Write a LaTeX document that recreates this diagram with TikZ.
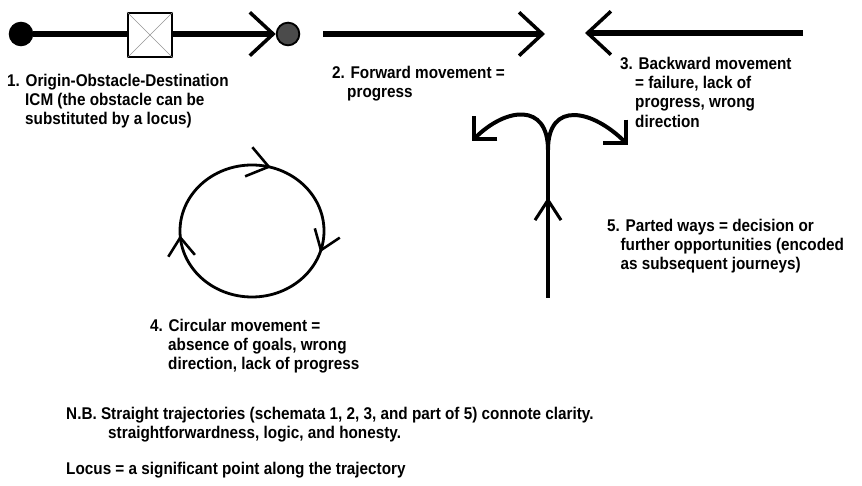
\documentclass[tikz,border=0pt]{standalone}
\usepackage{fontspec}
\setmainfont[FakeStretch=0.9]{Liberation Sans}
\usepackage{tikz}
\usetikzlibrary{arrows.meta,positioning,calc,decorations.markings}
\definecolor{DotGray}{RGB}{75,75,75}
\definecolor{CrossGray}{RGB}{150,150,150}

\begin{document}
\begin{tikzpicture}[x=0.03cm, y=0.03cm,
  traj/.style={line width=4.3pt, -{Straight Barb[length=0.7cm, width=1.3cm, line width=3pt]}},
  branch/.style={line width=3.4pt, -{Straight Barb[length=0.5cm, width=1.0cm, line width=3pt]}},
  ring/.style={line width=2.4pt, postaction={decorate}, decoration={markings,
    mark=at position 0.044 with {\arrow{Straight Barb[length=0.62cm, width=0.9cm, line width=2.2pt]}},
    mark=at position 0.30 with {\arrow{Straight Barb[length=0.55cm, width=0.8cm, line width=2.2pt]}},
    mark=at position 0.74 with {\arrow{Straight Barb[length=0.55cm, width=0.8cm, line width=2.2pt]}}}},
  stem/.style={line width=3.6pt, postaction={decorate}, decoration={markings,
    mark=at position 0.68 with {\arrow{Straight Barb[length=0.6cm, width=0.78cm, line width=2.6pt]}}}},
  dot/.style={circle, draw, line width=1.6pt, minimum size=0.68cm, inner sep=0pt},
  note/.style={anchor=north west, inner sep=0pt, align=left, font=\fontsize{14.5}{16.1}\selectfont\bfseries}]
\useasboundingbox (0,0) rectangle (862,486);

% 1. origin - obstacle - destination
\node[dot, fill=black] (origin) at (21,452) {};
\node[dot, fill=DotGray] (destination) at (288,452) {};
\draw[traj] (origin) -- (destination);
\node[draw, fill=white, line width=1.8pt, minimum size=1.32cm] (obstacle) at (150,451) {};
\draw[CrossGray, thin] (obstacle.north west) -- (obstacle.south east) (obstacle.south west) -- (obstacle.north east);
\node[note] (label1) at (7,412) {1. Origin-Obstacle-Destination\\\hspace*{0.54cm}ICM (the obstacle can be\\\hspace*{0.54cm}substituted by a locus)};

% 2. forward
\coordinate (fwdstart) at (323,452);
\coordinate (fwdend) at (545,452);
\draw[traj] (fwdstart) -- (fwdend);
\node[note] (label2) at (332,420) {2. Forward movement =\\\hspace*{0.45cm}progress};

% 3. backward
\coordinate (backstart) at (803,453);
\coordinate (backend) at (585,453);
\draw[traj] (backstart) -- (backend);
\node[note, font=\fontsize{14.5}{16.4}\selectfont\bfseries] (label3) at (620,429) {3. Backward movement\\\hspace*{0.45cm}= failure, lack of\\\hspace*{0.45cm}progress, wrong\\\hspace*{0.45cm}direction};

% 4. circular
\draw[ring] (252,321) arc[start angle=90, end angle=-270, x radius=2.16cm, y radius=1.98cm];
\node[note] (label4) at (150,167) {4. Circular movement =\\\hspace*{0.54cm}absence of goals, wrong\\\hspace*{0.54cm}direction, lack of progress};

% 5. parted ways
\coordinate (partbase) at (548,188);
\coordinate (partfork) at (548,336);
\coordinate (partleft) at (472,345);
\coordinate (partright) at (628,341);
\draw[stem] (partbase) -- (partfork);
\draw[branch] (partfork) to[out=90, in=45, looseness=1.6] (partleft);
\draw[branch] (partfork) to[out=90, in=135, looseness=1.6] (partright);
\node[note] (label5) at (607,267) {5. Parted ways = decision or\\\hspace*{0.4cm}further opportunities (encoded\\\hspace*{0.4cm}as subsequent journeys)};

% notes
\node[note] (nb) at (66,79) {N.B. Straight trajectories (schemata 1, 2, 3, and part of 5) connote clarity.\\\hspace*{1.26cm}straightforwardness, logic, and honesty.};
\node[note] (locus) at (66,24) {Locus = a significant point along the trajectory};
\end{tikzpicture}
\end{document}
